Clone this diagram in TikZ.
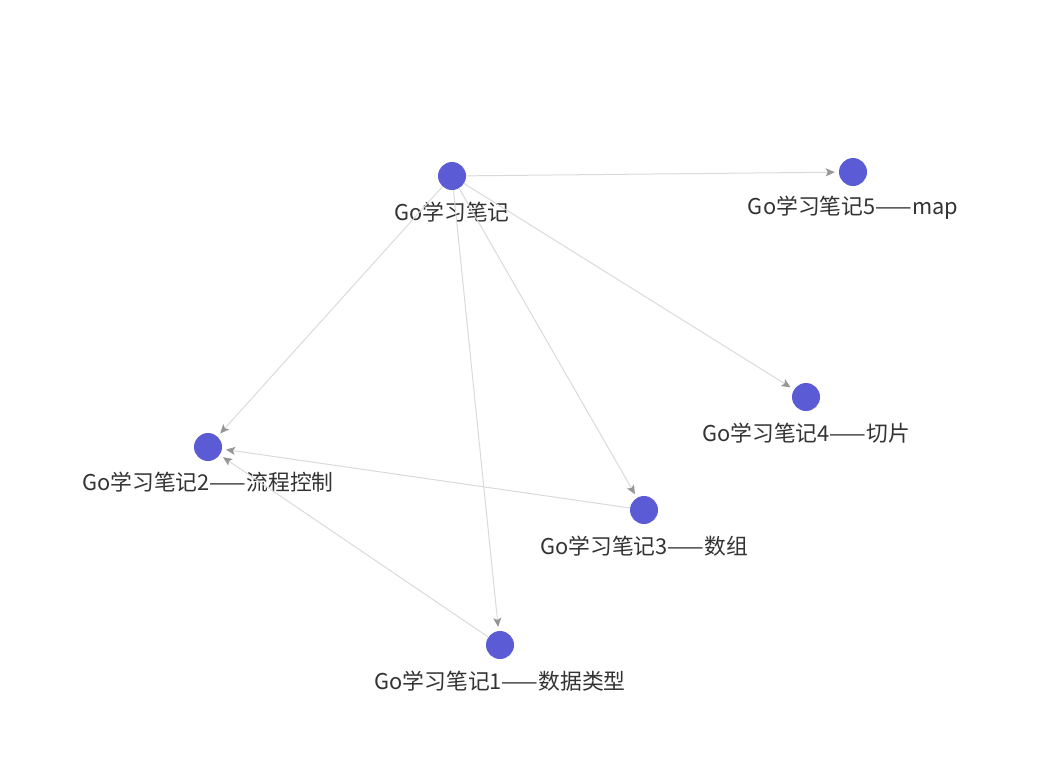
\documentclass[tikz,border=0pt]{standalone}
\usepackage{fontspec}
\setmainfont{Noto Sans CJK SC}
\usetikzlibrary{arrows.meta}
\definecolor{nodeblue}{RGB}{92,91,214}
\definecolor{edgegray}{RGB}{218,218,218}
\definecolor{tipgray}{RGB}{150,150,150}
\definecolor{txt}{RGB}{51,51,51}
\tikzset{
  dot/.style={circle,fill=nodeblue,minimum size=28pt,inner sep=0pt},
  lbl/.style={text=txt,font=\fontsize{21.8pt}{24pt}\selectfont,inner sep=0pt},
  edge/.style={draw=edgegray,line width=1pt,shorten >=4pt,
    -{Stealth[length=9pt,width=8pt,inset=2pt,color=tipgray]}}
}
\begin{document}
\begin{tikzpicture}[x=1pt,y=-1pt]
\useasboundingbox (0,0) rectangle (1041,772);
\node[dot] (g) at (452,176) {};
\node[dot] (g5) at (853,172) {};
\node[dot] (g4) at (806,397) {};
\node[dot] (g2) at (208,447) {};
\node[dot] (g3) at (644,510) {};
\node[dot] (g1) at (500,645) {};
\node[lbl] (lg) at (452,212) {Go学习笔记};
\node[lbl] (lg5) at (853,208) {Go学习笔记5——map};
\node[lbl] (lg4) at (806,433) {Go学习笔记4——切片};
\node[lbl] (lg2) at (208,482) {Go学习笔记2——流程控制};
\node[lbl] (lg3) at (644,546) {Go学习笔记3——数组};
\node[lbl] (lg1) at (500,681) {Go学习笔记1——数据类型};
\draw[edge] (g) -- (g5);
\draw[edge] (g) -- (g4);
\draw[edge] (g) -- (g2);
\draw[edge] (g) -- (g3);
\draw[edge] (g) -- (g1);
\draw[edge] (g3) -- (g2);
\draw[edge] (g1) -- (g2);
\end{tikzpicture}
\end{document}
